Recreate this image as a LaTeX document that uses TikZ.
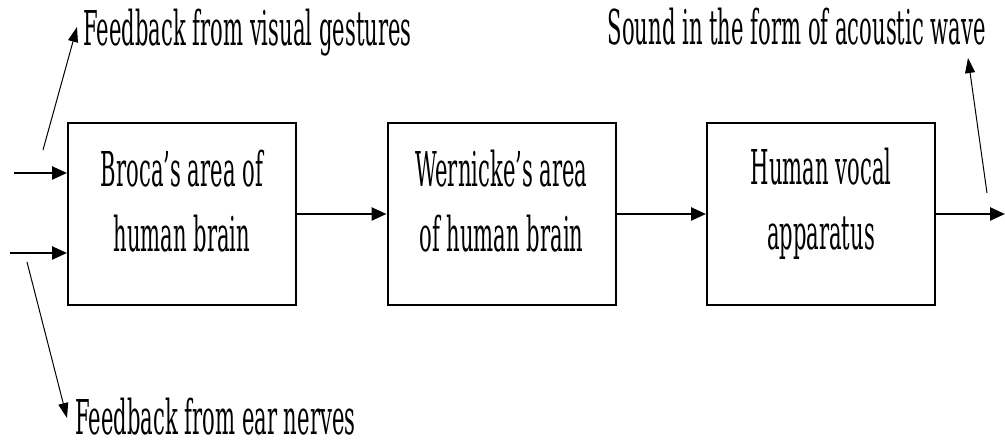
\documentclass[tikz,border=0pt]{standalone}
\usepackage{fontspec}
\setmainfont{DejaVu Serif}
\newfontfamily\narrowserif[FakeStretch=0.44]{DejaVu Serif}
\usetikzlibrary{arrows.meta}

\begin{document}
\begin{tikzpicture}[x=1pt,y=-1pt,
  every node/.style={font=\narrowserif\fontsize{48}{65}\selectfont, inner sep=0pt},
  box/.style={draw, line width=2pt, minimum width=228pt, minimum height=182pt},
  boxtext/.style={align=center, anchor=base},
  flow/.style={line width=2.5pt, -{Triangle[length=15pt,width=13pt]}},
  feed/.style={line width=1pt, -{Triangle[length=15pt,width=10pt]}}]
  \useasboundingbox (0,0) rectangle (1005,446);

  % processing stages
  \node[box] (broca)    at (182,214)   {};
  \node[box] (wernicke) at (501.5,214) {};
  \node[box] (vocal)    at (821,214)   {};

  % stage captions (anchored on the baseline of the second line)
  \node[boxtext] (brocaT)    at (182,252)   {Broca’s area of\\human brain};
  \node[boxtext] (wernickeT) at (501.5,252) {Wernicke’s area\\of human brain};
  \node[boxtext] (vocalT)    at (821,250)   {Human vocal\\apparatus};

  % signal flow between stages
  \draw[flow] (broca.east) -- (wernicke.west);
  \draw[flow] (wernicke.east) -- (vocal.west);
  \coordinate (out) at (1005,214);
  \draw[flow] (vocal.east) -- (out);

  % inputs into Broca's area
  \coordinate (inA) at (14,173);
  \coordinate (inB) at (10,253);
  \draw[flow] (inA) -- (broca.west |- inA);
  \draw[flow] (inB) -- (broca.west |- inB);

  % feedback labels
  \node[anchor=base west] (fbVisual) at (83,46)  {Feedback from visual gestures};
  \node[anchor=base west] (fbEar)    at (75,435) {Feedback from ear nerves};
  \node[anchor=base east] (sound)    at (986,45) {Sound in the form of acoustic wave};

  % feedback and output pointers
  \coordinate (fvFrom) at (43,150);
  \coordinate (fvTip)  at (77,27);
  \draw[feed] (fvFrom) -- (fvTip);
  \coordinate (feFrom) at (27,262);
  \coordinate (feTip)  at (67,418);
  \draw[feed] (feFrom) -- (feTip);
  \coordinate (swFrom) at (987,193);
  \coordinate (swTip)  at (968,58);
  \draw[feed] (swFrom) -- (swTip);
\end{tikzpicture}
\end{document}
